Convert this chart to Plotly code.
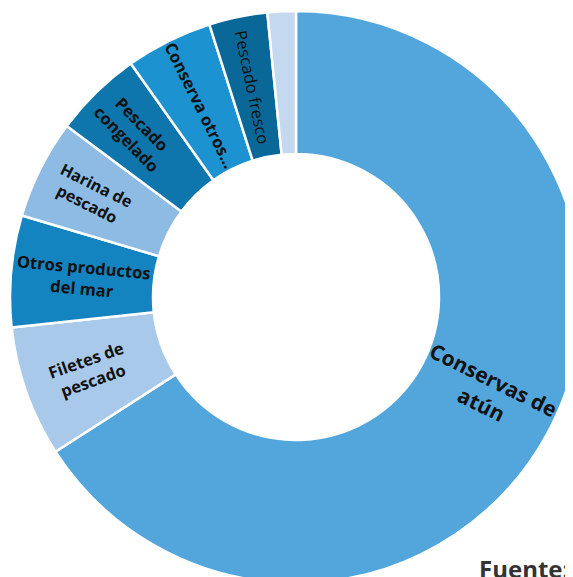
import plotly.graph_objects as go

labels = ["Conservas de atún", "Filetes de pescado", "Otros productos del mar",
          "Harina de pescado", "Pescado congelado", "Conserva otros...",
          "Pescado fresco", "Otros"]
values = [65.9, 7.4, 6.3, 5.6, 5.0, 4.9, 3.3, 1.6]
texts = ["", "<b>Filetes de<br>pescado</b>",
         "<b>Otros productos<br>del mar</b>", "<b>Harina de<br>pescado</b>",
         "<b>Pescado<br>congelado</b>", "<b>Conserva otros...</b>",
         "Pescado fresco", ""]
big_text = "<b>Conservas de<br>atún</b>"
colors = ["#52a6dc", "#a9c9ea", "#1484c0", "#8dbbe3", "#0e76ac", "#1c93d0",
          "#0a6898", "#c4d9f0"]
sizes = [22, 16.5, 16.5, 16, 16.5, 16.5, 16.5, 10]

fig = go.Figure(go.Pie(
    labels=labels, values=values, text=texts, textinfo="text",
    sort=False, direction="clockwise", rotation=0, hole=0.5,
    marker=dict(colors=colors, line=dict(color="white", width=2.5)),
    insidetextorientation="radial", textposition="inside",
    textfont=dict(family="Open Sans", size=sizes, color="#111111"),
    showlegend=False, hoverinfo="label+percent",
))

# transparent helper ring to place the big slice's label within its arc
total = sum(values)
big = values[0]
helper_vals = [big * 0.38, big * 0.22, total - big * 0.60]
fig.add_trace(go.Pie(
    labels=["a", "b", "c"], values=helper_vals, text=["", big_text, ""],
    textinfo="text", sort=False, direction="clockwise", rotation=0, hole=0.5,
    marker=dict(colors=["rgba(0,0,0,0)"] * 3, line=dict(width=0)),
    insidetextorientation="radial", textposition="inside",
    textfont=dict(family="Open Sans", size=22, color="#111111"),
    showlegend=False, hoverinfo="skip",
))

fig.add_annotation(text="<b>Fuente:</b>", xref="paper", yref="paper",
                   x=0.8165, y=0.026, xanchor="left", yanchor="middle",
                   showarrow=False, font=dict(family="Open Sans", size=24, color="#333333"))

fig.update_layout(width=600, height=600, autosize=False,
                  margin=dict(l=2, t=3, r=26, b=25),
                  paper_bgcolor="white", plot_bgcolor="white")

fig.write_html("out.html")
